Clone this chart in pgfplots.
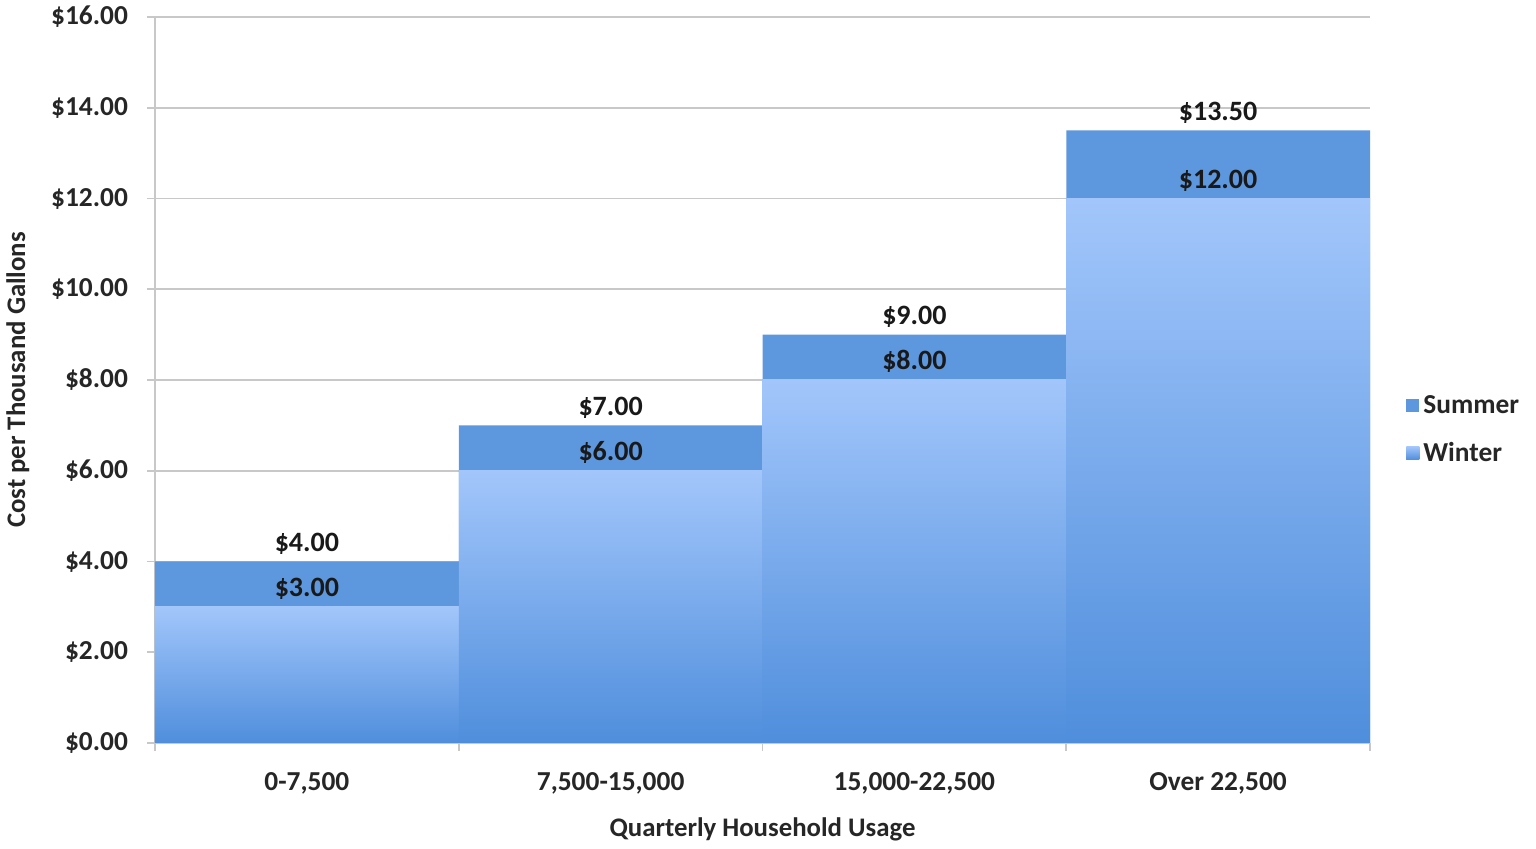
\documentclass[border=0pt]{standalone}
\usepackage{pgfplots}
\pgfplotsset{compat=1.18}
\usepackage{fontspec}
\setmainfont{Carlito}
\definecolor{summer}{HTML}{5D97DD}
\definecolor{winleg}{HTML}{78AAEA}
\definecolor{wintop}{HTML}{A2C6FB}
\definecolor{winbot}{HTML}{4F8EDC}
\definecolor{gridc}{HTML}{C8C8C8}
\begin{document}
\begin{tikzpicture}
\begin{axis}[
  name=ax,
  scale only axis,
  width=607.5pt, height=363pt,
  xmin=-0.5, xmax=3.5, ymin=0, ymax=16,
  axis lines=left,
  axis line style={gridc, line width=0.8pt, -},
  ytick={0,2,...,16},
  yticklabels={\$0.00,\$2.00,\$4.00,\$6.00,\$8.00,\$10.00,\$12.00,\$14.00,\$16.00},
  xtick={-0.5,0.5,1.5,2.5,3.5},
  xticklabels={},
  extra x ticks={0,1,2,3},
  extra x tick labels={0-7{,}500,7{,}500-15{,}000,15{,}000-22{,}500,Over 22{,}500},
  extra x tick style={major tick length=0pt, grid=none, xticklabel style={yshift=-11pt}},
  ymajorgrids,
  grid style={gridc, line width=0.8pt},
  tick style={gridc, line width=0.8pt},
  major tick length=4pt,
  tick align=outside,
  ticklabel style={font=\fontsize{13.7}{15}\selectfont\bfseries, text=black!85},
  yticklabel style={xshift=-6pt},
  ylabel={Cost per Thousand Gallons},
  xlabel={Quarterly Household Usage},
  label style={font=\fontsize{13.4}{15}\selectfont\bfseries, text=black!85},
  ylabel style={yshift=4pt},
  xlabel style={yshift=-1pt},
  ybar, bar width=1, bar shift=0,
  nodes near coords={\$\pgfmathprintnumber[fixed,fixed zerofill,precision=2,assume math mode=true]{\pgfplotspointmeta}},
  nodes near coords style={font=\fontsize{14}{16}\selectfont\bfseries, text=black!90, yshift=0pt},
  legend style={at={(1.028,0.431)}, anchor=west, draw=none, fill=none,
     font=\fontsize{13.7}{16}\selectfont\bfseries, text=black!85,
     row sep=9pt, inner sep=1pt},
  legend cell align=left,
  clip=false,
]
\addplot[fill=summer, draw=none,
  legend image code/.code={\fill[summer] (0pt,-3pt) rectangle (6.5pt,3.5pt);}]
  coordinates {(0,4) (1,7) (2,9) (3,13.5)};
\addlegendentry{Summer}
\addplot[draw=none, top color=wintop, bottom color=winbot,
  legend image code/.code={\fill[winleg] (0pt,-3pt) rectangle (6.5pt,3.5pt);}]
  coordinates {(0,3)};
\addlegendentry{Winter}
\addplot[draw=none, top color=wintop, bottom color=winbot, forget plot] coordinates {(1,6)};
\addplot[draw=none, top color=wintop, bottom color=winbot, forget plot] coordinates {(2,8)};
\addplot[draw=none, top color=wintop, bottom color=winbot, forget plot] coordinates {(3,12)};
\end{axis}
\pgfresetboundingbox
\path ([shift={(-77.5pt,-53pt)}]ax.south west) rectangle ([shift={(83pt,8.5pt)}]ax.north east);
\end{tikzpicture}
\end{document}
